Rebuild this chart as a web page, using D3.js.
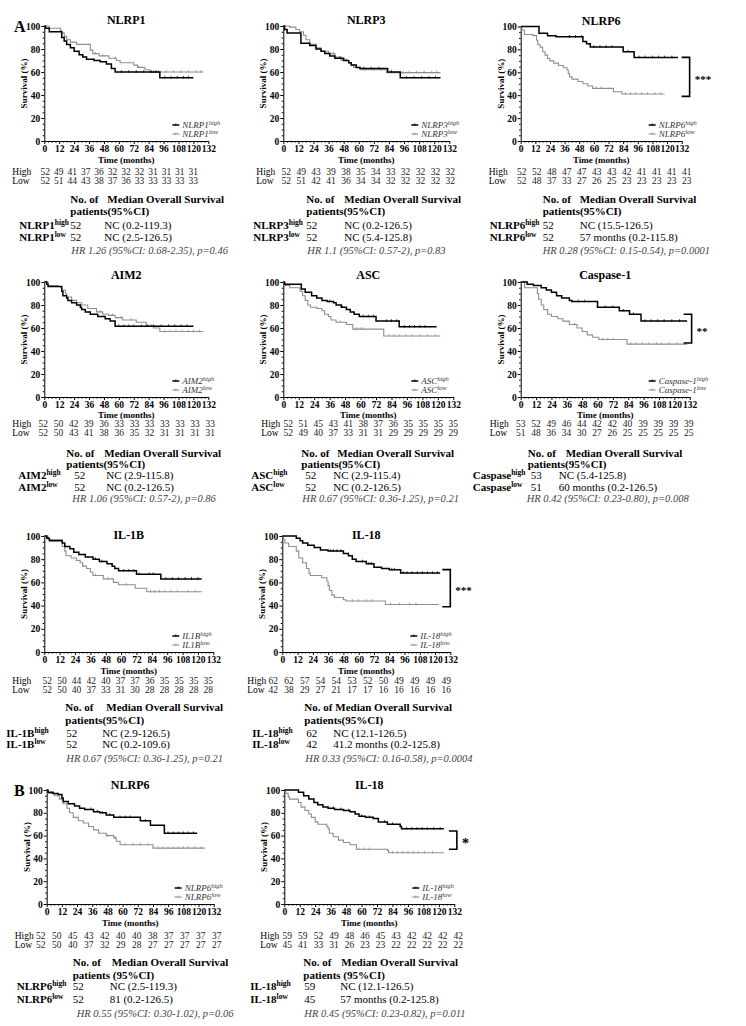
<!DOCTYPE html>
<html><head><meta charset="utf-8">
<script src="https://cdn.jsdelivr.net/npm/d3@7"></script>
<style>
body{margin:0;background:#fff}
svg{display:block}
text{font-family:"Liberation Serif","Times New Roman",serif}
</style>
</head><body>
<svg id="c" width="746" height="1026"></svg>
<script>
// ---------------- DATA ----------------
const panelTitles = ["NLRP1","NLRP3","NLRP6","AIM2","ASC","Caspase-1","IL-1B","IL-18","NLRP6","IL-18"];
const legendNames = ["NLRP1","NLRP3","NLRP6","AIM2","ASC","Caspase-1","IL1B","IL-18","NLRP6","IL-18"];
const tableNames  = ["NLRP1","NLRP3","NLRP6","AIM2","ASC","Caspase","IL-1B","IL-18","NLRP6","IL-18"];
const xTicks = [0,12,24,36,48,60,72,84,96,108,120,132];
const yTicks = [0,20,40,60,80,100];

// Kaplan-Meier steps [month, survival % after drop]
const highSteps = [
  [[1,98],[4,95],[14,90],[16,87],[18,84],[21,81],[24,78],[28,75],[31,73],[34,71],[40,70],[45,69],[50,67],[54,63],[57,60],[93,55]],
  [[1,97],[3,94],[14,85],[21,83],[26,80],[30,78],[33,76],[37,74],[41,72],[48,70],[52,68],[54,66],[58,64],[61,63],[83,60],[93,55]],
  [[15,94],[22,92],[29,91],[51,87],[54,85],[57,82],[84,78],[93,73]],
  [[2,98],[3,96],[14,92],[15,88],[18,86],[19,84],[22,82],[26,80],[29,78],[30,76],[33,74],[37,72],[43,70],[49,68],[53,66],[57,61.5]],
  [[1,98],[14,94],[17,91],[22,88],[26,86],[30,84],[34,83],[39,82],[41,80],[45,78],[49,76],[52,74],[55,72],[59,70],[72,66],[90,61]],
  [[5,98],[10,97],[16,95],[20,93],[24,91],[28,88],[32,86],[38,84],[40,83],[60,78],[77,75],[85,72],[94,66]],
  [[2,98],[4,96],[14,94],[16,91],[20,89],[23,86],[27,84],[32,82],[38,80],[43,78],[49,76],[53,74],[55,72],[58,70],[72,67],[91,63]],
  [[11,98],[14,96],[16,94],[20,92],[25,90],[30,88],[36,87],[48,85],[52,83],[55,80],[58,78],[66,76],[72,73],[78,72],[84,71],[93,68]],
  [[1,98],[5,97],[9,96],[12,93],[13,90],[17,88],[22,86],[26,84],[30,83],[37,81],[42,80],[47,78],[53,76],[74,73],[82,69],[93,62]],
  [[11,98],[15,95],[19,92],[23,89],[26,87],[30,85],[34,84],[39,83],[46,82],[51,81],[55,79],[58,77],[63,76],[69,75],[73,72],[80,70],[90,68],[91,66]]
];
const lowSteps = [
  [[4,98],[13,96],[14,94],[16,91],[18,88],[21,86],[26,84],[37,79],[39,76],[44,74],[52,72],[58,70],[61,68],[72,66],[75,64],[81,62],[85,60]],
  [[5,99],[10,97],[13,95],[16,92],[18,88],[21,84],[26,81],[30,78],[36,76],[41,73],[46,70],[52,68],[54,66],[56,64],[61,62],[82,59.5]],
  [[1,97],[3,93],[10,92],[13,88],[14,84],[16,82],[18,78],[20,75],[22,72],[24,70],[27,68],[31,66],[35,64],[38,62],[39,59],[40,56],[42,54],[47,52],[51,50],[55,48],[59,46],[76,43],[83,41]],
  [[3,97],[11,96],[14,93],[17,90],[18,87],[22,84],[26,82],[30,80],[35,77],[42,74],[47,72],[52,71],[57,69],[63,67],[74,65],[82,62],[88,60],[93,57]],
  [[1,97],[5,95],[13,92],[15,88],[17,84],[19,80],[21,78],[26,77],[30,75],[32,72],[35,70],[37,67],[41,65],[49,63],[54,59],[78,53]],
  [[3,95],[13,90],[14,85],[16,80],[18,76],[21,72],[24,70],[29,68],[33,66],[38,63],[44,60],[48,57],[52,54],[56,52],[61,50],[83,46]],
  [[3,97],[14,91],[16,87],[17,83],[21,81],[25,79],[28,77],[30,74],[33,72],[36,69],[38,66],[46,63],[54,60],[58,58],[71,55],[80,52]],
  [[1,97],[2,94],[5,91],[11,87],[13,81],[16,77],[19,72],[21,68],[22,66],[31,64],[35,61],[36,57],[37,53],[39,49],[41,47],[48,45],[50,44],[81,41]],
  [[1,97],[6,95],[10,92],[13,88],[16,84],[18,80],[21,76],[25,73],[29,71],[33,68],[37,65],[41,62],[47,60],[53,58],[55,55],[58,52],[84,49]],
  [[1,97],[3,94],[4,92],[11,89],[13,85],[16,82],[19,79],[21,76],[24,72],[26,70],[33,68],[34,66],[35,62],[38,59],[42,56],[46,54],[51,52],[56,48],[80,47],[81,45]]
];
const highEnd = [120,125,129,120,119,130,123,124,119,124];
const lowEnd  = [128,125,118,128,122,130,123,123,125,124];
const highCensor = [
  [62,68,74,80,86,90,97,102,107,112,116],
  [45,50,64,70,76,86,98,104,110,116,121],
  [40,45,50,60,65,70,75,88,97,102,108,113,118,124],
  [60,64,68,72,78,83,88,94,100,105,110,115],
  [36,46,62,66,70,80,84,88,94,98,102,106,110],
  [45,50,66,72,80,88,97,102,107,112,118,124],
  [40,45,62,66,70,74,82,85,95,100,105,110,115,120],
  [30,38,40,43,46,63,68,70,86,88,95,98,102,106,110,114,118,122],
  [35,40,44,50,58,62,66,78,96,100,104,108,112,116],
  [38,44,50,60,66,78,84,95,99,103,107,111,116,121]
];
const lowCensor = [
  [41,47,57,76,88,92,98,104,110,116,122,126],
  [40,47,65,72,78,88,95,100,106,112,118,122],
  [62,66,86,90,94,99,104,110,115],
  [45,55,62,70,86,97,101,106,111,116,120,125],
  [44,56,58,60,62,82,86,90,95,100,106,112,118],
  [42,64,68,72,86,90,95,100,106,110,116,122],
  [30,40,50,64,83,86,90,94,99,104,112,118],
  [55,60,66,70,85,92,100,105],
  [48,54,62,68,74,80,88,92,96,100,104,108,112,117,122],
  [58,62,66,84,88,92,96,100,104,109,115]
];
// numbers at risk
const riskHigh = [
  [52,49,41,37,36,32,32,32,31,31,31,31],
  [52,49,43,39,38,35,34,33,32,32,32,32],
  [52,52,48,47,47,43,43,42,41,41,41,41],
  [52,50,42,39,36,33,33,33,33,33,33,33],
  [52,51,45,43,41,38,37,36,35,35,35,35],
  [53,52,49,46,44,42,42,40,39,39,39,39],
  [52,50,44,42,40,37,37,36,35,35,35,35],
  [62,62,57,54,54,53,52,50,49,49,49,49],
  [52,50,45,43,42,40,40,38,37,37,37,37],
  [59,59,52,49,48,46,45,43,42,42,42,42]
];
const riskLow = [
  [52,51,44,43,38,37,36,33,33,33,33,33],
  [52,51,42,41,36,34,34,32,32,32,32,32],
  [52,48,37,33,27,26,25,23,23,23,23,23],
  [52,50,43,41,38,36,35,32,31,31,31,31],
  [52,49,40,37,33,31,31,29,29,29,29,29],
  [51,48,36,34,30,27,26,25,25,25,25,25],
  [52,50,40,37,33,31,30,28,28,28,28,28],
  [42,38,29,27,21,17,17,16,16,16,16,16],
  [52,50,40,37,32,29,28,27,27,27,27,27],
  [45,41,33,31,26,23,23,22,22,22,22,22]
];
const nHigh = [52,52,52,52,52,53,52,62,52,59];
const nLow  = [52,52,52,52,52,51,52,42,52,45];
const medHigh = ["NC (0.2-119.3)","NC (0.2-126.5)","NC (15.5-126.5)","NC (2.9-115.8)","NC (2.9-115.4)","NC (5.4-125.8)","NC (2.9-126.5)","NC (12.1-126.5)","NC (2.5-119.3)","NC (12.1-126.5)"];
const medLow  = ["NC (2.5-126.5)","NC (5.4-125.8)","57 months (0.2-115.8)","NC (0.2-126.5)","NC (0.2-126.5)","60 months (0.2-126.5)","NC (0.2-109.6)","41.2 months (0.2-125.8)","81 (0.2-126.5)","57 months (0.2-125.8)"];
const hrText = [
  "HR 1.26 (95%CI: 0.68-2.35), p=0.46",
  "HR 1.1 (95%CI: 0.57-2), p=0.83",
  "HR 0.28 (95%CI: 0.15-0.54), p=0.0001",
  "HR 1.06 (95%CI: 0.57-2), p=0.86",
  "HR 0.67 (95%CI: 0.36-1.25), p=0.21",
  "HR 0.42 (95%CI: 0.23-0.80), p=0.008",
  "HR 0.67 (95%CI: 0.36-1.25), p=0.21",
  "HR 0.33 (95%CI: 0.16-0.58), p=0.0004",
  "HR 0.55 (95%CI: 0.30-1.02), p=0.06",
  "HR 0.45 (95%CI: 0.23-0.82), p=0.011"
];
const patientsHeader = ["patients(95%CI)","patients(95%CI)","patients(95%CI)","patients(95%CI)","patients(95%CI)","patients(95%CI)","patients(95%CI)","patients(95%CI)","patients (95%CI)","patients (95%CI)"];
// significance brackets: [panel index, top %, bottom %, stars]
const brackets = [[2,73,39,"***"],[5,72,47,"**"],[7,71,39,"***"],[9,64,48,"*"]];
const sectionLetters = [["A",0],["B",8]];

// ---------------- LAYOUT ----------------
const layout = [
  {x0:44.3, w:164, yTop:26,  yBot:141, row:0, lx:-32, rs:1,  re:149, lab:-25, cnt:26, val:60, hdr:26, med:63, hr:27},
  {x0:283.3,w:166, yTop:26,  yBot:141, row:0, lx:-27, rs:3,  re:167, lab:-30, cnt:23, val:61, hdr:23, med:61, hr:24},
  {x0:520.7,w:161, yTop:26.5,yBot:141, row:0, lx:-32, rs:1,  re:166, lab:-31, cnt:22, val:59, hdr:22, med:59, hr:22},
  {x0:44.3, w:164, yTop:282, yBot:397, row:1, lx:-32, rs:-1, re:166, lab:-26, cnt:30, val:62, hdr:22, med:60, hr:28},
  {x0:283.3,w:170, yTop:282, yBot:397, row:1, lx:-22, rs:5,  re:170, lab:-32, cnt:22, val:50, hdr:18, med:54, hr:19},
  {x0:520.7,w:169, yTop:282, yBot:397, row:1, lx:-31, rs:0,  re:168, lab:-48, cnt:10, val:38, hdr:7,  med:45, hr:6},
  {x0:44.3, w:169, yTop:536, yBot:652, row:2, lx:-32, rs:3,  re:164, lab:-38, cnt:22, val:58, hdr:21, med:62, hr:22},
  {x0:282.3,w:168, yTop:536, yBot:652, row:2, lx:-35, rs:-9, re:164, lab:-30, cnt:24, val:51, hdr:22, med:53, hr:23},
  {x0:46.7, w:167, yTop:790, yBot:904, row:3, lx:-32, rs:-6, re:170, lab:-30, cnt:26, val:63, hdr:26, med:65, hr:30},
  {x0:284.3,w:170, yTop:790, yBot:904, row:3, lx:-24, rs:3,  re:174, lab:-34, cnt:20, val:56, hdr:19, med:57, hr:20}
];
const rowOff = [
  {title:-6, time:19, high:31, low:40, h1:58, h2:70, r1:84, r2:96, hr:109},
  {title:-7, time:18, high:27, low:36, h1:56, h2:67, r1:78, r2:90, hr:101},
  {title:-1, time:19, high:29, low:38, h1:55, h2:68, r1:81, r2:92, hr:106},
  {title:-5, time:19, high:32, low:41, h1:58, h2:71, r1:82, r2:95, hr:109}
];
const bracketX = {2:138.5, 5:133.5, 7:132, 9:134};
const HIGH_COL = "#000", LOW_COL = "#8f8f8f";

// ---------------- DRAW ----------------
const svg = d3.select("#c");
const FONT = '"Liberation Serif","Times New Roman",serif';

function survAt(steps, t){
  let s = 100;
  for (const [st, sv] of steps){ if (st <= t) s = sv; else break; }
  return s;
}

layout.forEach((L, i) => {
  const x = d3.scaleLinear().domain([0,132]).range([L.x0, L.x0 + L.w]);
  const y = d3.scaleLinear().domain([0,100]).range([L.yBot, L.yTop]);
  const R = rowOff[L.row];
  const g = svg.append("g");

  // minor ticks
  const minorX = d3.range(3, 132, 3).filter(v => v % 12 !== 0);
  g.append("g").attr("transform", `translate(0,${L.yBot})`)
    .call(d3.axisBottom(x).tickValues(minorX).tickSize(1.6).tickFormat(""))
    .call(a => a.select(".domain").remove());
  const minorY = d3.range(5, 100, 5).filter(v => v % 20 !== 0);
  g.append("g").attr("transform", `translate(${L.x0},0)`)
    .call(d3.axisLeft(y).tickValues(minorY).tickSize(1.6).tickFormat(""))
    .call(a => a.select(".domain").remove());

  // axes
  const ax = g.append("g").attr("transform", `translate(0,${L.yBot})`)
    .call(d3.axisBottom(x).tickValues(xTicks).tickSize(3).tickSizeOuter(0).tickPadding(1.5));
  const ay = g.append("g").attr("transform", `translate(${L.x0},0)`)
    .call(d3.axisLeft(y).tickValues(yTicks).tickSize(3).tickSizeOuter(0).tickPadding(1));
  [ax, ay].forEach(a => {
    a.selectAll("text").attr("font-family", FONT).attr("font-weight", "bold")
      .attr("font-size", 9.5).attr("fill", "#000");
    a.select(".domain").attr("stroke", "#000").attr("stroke-width", 1);
    a.selectAll("line").attr("stroke", "#000");
  });
  g.selectAll(".tick line").attr("stroke", "#000");

  // y label
  g.append("text")
    .attr("transform", `translate(${L.x0 - 20},${(L.yTop + L.yBot) / 2}) rotate(-90)`)
    .attr("text-anchor", "middle").attr("dy", "0.35em")
    .attr("font-size", 9).attr("font-weight", "bold").text("Survival (%)");

  // title
  g.append("text").attr("x", L.x0 + L.w / 2).attr("y", L.yTop + R.title)
    .attr("text-anchor", "middle").attr("dy", "0.35em")
    .attr("font-size", 12).attr("font-weight", "bold").text(panelTitles[i]);

  // x label
  const base = L.yBot;
  g.append("text").attr("x", L.x0 + L.w / 2).attr("y", base + R.time)
    .attr("text-anchor", "middle").attr("dy", "0.35em")
    .attr("font-size", 9).attr("font-weight", "bold").text("Time (months)");

  // KM curves
  const line = d3.line().x(d => x(d[0])).y(d => y(d[1])).curve(d3.curveStepAfter);
  const series = [
    {steps: lowSteps[i], end: lowEnd[i], cens: lowCensor[i], col: LOW_COL, w: 1.1},
    {steps: highSteps[i], end: highEnd[i], cens: highCensor[i], col: HIGH_COL, w: 1.5}
  ];
  series.forEach(s => {
    const pts = [[0,100], ...s.steps];
    pts.push([s.end, pts[pts.length - 1][1]]);
    g.append("path").attr("d", line(pts)).attr("fill", "none")
      .attr("stroke", s.col).attr("stroke-width", s.w);
    g.selectAll(null).data(s.cens).enter().append("line")
      .attr("x1", t => x(t)).attr("x2", t => x(t))
      .attr("y1", t => y(survAt(s.steps, t)) - 1.8)
      .attr("y2", t => y(survAt(s.steps, t)) + 0.8)
      .attr("stroke", s.col).attr("stroke-width", 0.8);
  });

  // legend
  const lg = [
    {name: legendNames[i], sup: "high", col: HIGH_COL, w: 1.5, dy: -16},
    {name: legendNames[i], sup: "low", col: LOW_COL, w: 1.1, dy: -7}
  ];
  lg.forEach(l => {
    const yy = L.yBot + l.dy;
    g.append("line").attr("x1", L.x0 + 128).attr("x2", L.x0 + 135)
      .attr("y1", yy).attr("y2", yy).attr("stroke", l.col).attr("stroke-width", l.w);
    g.append("line").attr("x1", L.x0 + 131.5).attr("x2", L.x0 + 131.5)
      .attr("y1", yy - 1.6).attr("y2", yy + 0.8).attr("stroke", l.col).attr("stroke-width", 0.8);
    const t = g.append("text").attr("x", L.x0 + 138).attr("y", yy).attr("dy", "0.35em")
      .attr("font-size", 9).attr("font-style", "italic").attr("fill", "#333");
    t.append("tspan").text(l.name);
    t.append("tspan").attr("font-size", 6.5).attr("dy", "-0.5em").text(l.sup);
  });

  // numbers at risk
  const rx = d3.scaleLinear().domain([0, 11]).range([L.x0 + L.rs, L.x0 + L.re]);
  [["High", riskHigh[i], R.high], ["Low", riskLow[i], R.low]].forEach(([lab, vals, off]) => {
    g.append("text").attr("x", L.x0 + L.lx).attr("y", base + off).attr("dy", "0.35em")
      .attr("font-size", 9.5).text(lab);
    g.selectAll(null).data(vals).enter().append("text")
      .attr("x", (d, k) => rx(k)).attr("y", base + off).attr("dy", "0.35em")
      .attr("text-anchor", "middle").attr("font-size", 9.5).attr("fill", "#222").text(d => d);
  });

  // summary table
  g.append("text").attr("x", L.x0 + L.hdr).attr("y", base + R.h1).attr("dy", "0.35em")
    .attr("font-size", 11).attr("font-weight", "bold").text("No. of");
  g.append("text").attr("x", L.x0 + L.med).attr("y", base + R.h1).attr("dy", "0.35em")
    .attr("font-size", 11).attr("font-weight", "bold").text("Median Overall Survival");
  g.append("text").attr("x", L.x0 + L.hdr).attr("y", base + R.h2).attr("dy", "0.35em")
    .attr("font-size", 11).attr("font-weight", "bold").text(patientsHeader[i]);
  [["high", nHigh[i], medHigh[i], R.r1], ["low", nLow[i], medLow[i], R.r2]].forEach(([sup, n, med, off]) => {
    const t = g.append("text").attr("x", L.x0 + L.lab).attr("y", base + off).attr("dy", "0.35em")
      .attr("font-size", 11).attr("font-weight", "bold");
    t.append("tspan").text(tableNames[i]);
    t.append("tspan").attr("font-size", 7.5).attr("dy", "-0.45em").text(sup);
    g.append("text").attr("x", L.x0 + L.cnt).attr("y", base + off).attr("dy", "0.35em")
      .attr("font-size", 11).text(n);
    g.append("text").attr("x", L.x0 + L.val).attr("y", base + off).attr("dy", "0.35em")
      .attr("font-size", 11).text(med);
  });
  g.append("text").attr("x", L.x0 + L.hr).attr("y", base + R.hr).attr("dy", "0.35em")
    .attr("font-size", 10.5).attr("font-style", "italic").attr("fill", "#444").text(hrText[i]);
});

// brackets
brackets.forEach(([pi, top, bot, stars]) => {
  const L = layout[pi];
  const x = d3.scaleLinear().domain([0,132]).range([L.x0, L.x0 + L.w]);
  const y = d3.scaleLinear().domain([0,100]).range([L.yBot, L.yTop]);
  const xv = x(bracketX[pi]);
  svg.append("path")
    .attr("d", `M${xv - 8},${y(top)}H${xv}V${y(bot)}H${xv - 8}`)
    .attr("fill", "none").attr("stroke", "#000").attr("stroke-width", 1.6);
  svg.append("text").attr("x", xv + 5).attr("y", y((top + bot) / 2)).attr("dy", "0.55em")
    .attr("font-family", '"Liberation Sans",Arial,sans-serif')
    .attr("font-size", stars.length === 1 ? 14 : 11).attr("font-weight", "bold").text(stars);
});

// section letters
sectionLetters.forEach(([letter, pi]) => {
  const L = layout[pi];
  svg.append("text").attr("x", 14).attr("y", L.yTop).attr("dy", "0.35em")
    .attr("font-family", '"Liberation Sans",Arial,sans-serif')
    .attr("font-size", 16).attr("font-weight", "bold").text(letter);
});
</script>
</body></html>
